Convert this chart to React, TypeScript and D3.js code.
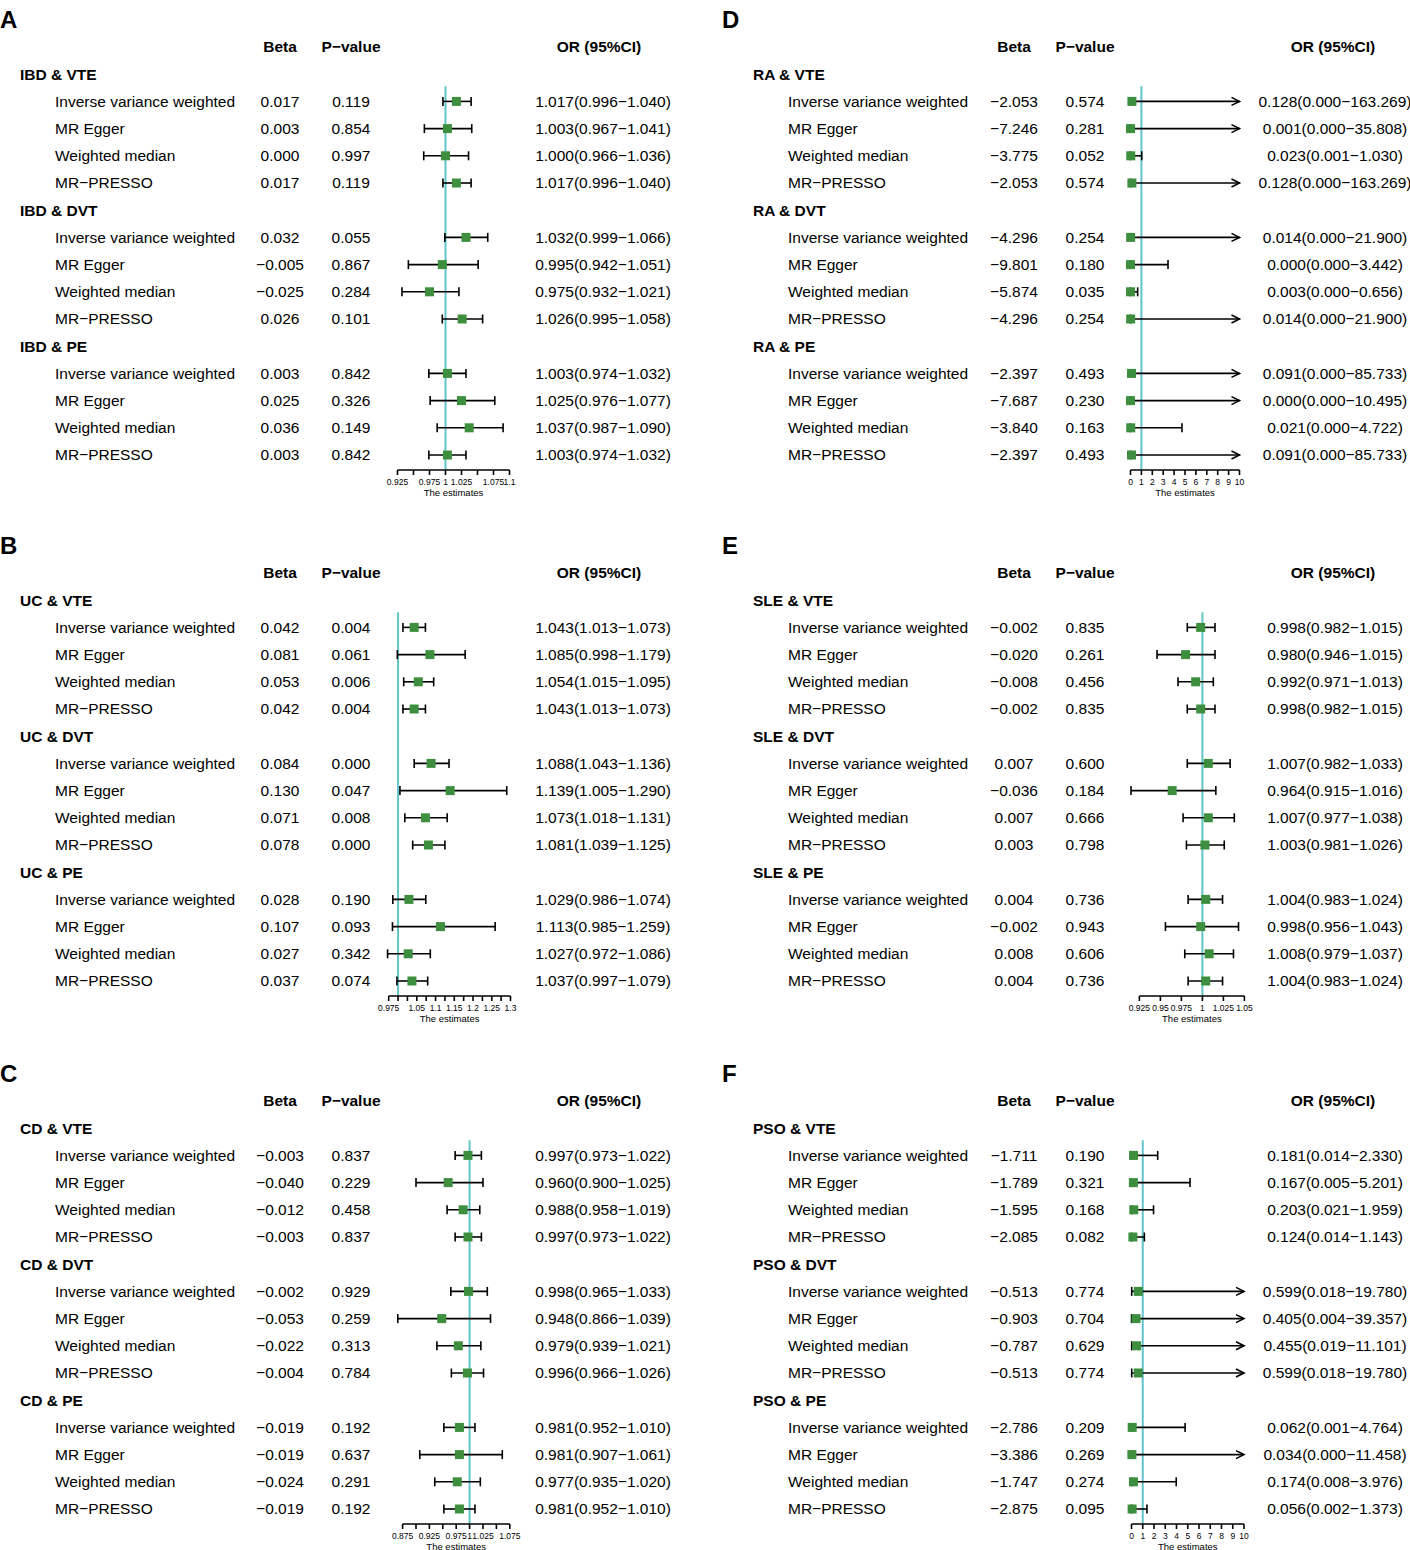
import React from "react";
import * as d3 from "d3";

const methods = ["Inverse variance weighted", "MR Egger", "Weighted median", "MR\u2212PRESSO"];

// Panel A
const groupsA = ["IBD & VTE", "IBD & DVT", "IBD & PE"];
const betaA = ["0.017", "0.003", "0.000", "0.017", "0.032", "\u22120.005", "\u22120.025", "0.026", "0.003", "0.025", "0.036", "0.003"];
const pA = ["0.119", "0.854", "0.997", "0.119", "0.055", "0.867", "0.284", "0.101", "0.842", "0.326", "0.149", "0.842"];
const orA = [1.017, 1.003, 1.0, 1.017, 1.032, 0.995, 0.975, 1.026, 1.003, 1.025, 1.037, 1.003];
const loA = [0.996, 0.967, 0.966, 0.996, 0.999, 0.942, 0.932, 0.995, 0.974, 0.976, 0.987, 0.974];
const hiA = [1.04, 1.041, 1.036, 1.04, 1.066, 1.051, 1.021, 1.058, 1.032, 1.077, 1.09, 1.032];
const ticksA = [0.925, 0.95, 0.975, 1, 1.025, 1.05, 1.075, 1.1];
const tickLabelsA = ["0.925", "", "0.975", "1", "1.025", "", "1.075", "1.1"];

// Panel B
const groupsB = ["UC & VTE", "UC & DVT", "UC & PE"];
const betaB = ["0.042", "0.081", "0.053", "0.042", "0.084", "0.130", "0.071", "0.078", "0.028", "0.107", "0.027", "0.037"];
const pB = ["0.004", "0.061", "0.006", "0.004", "0.000", "0.047", "0.008", "0.000", "0.190", "0.093", "0.342", "0.074"];
const orB = [1.043, 1.085, 1.054, 1.043, 1.088, 1.139, 1.073, 1.081, 1.029, 1.113, 1.027, 1.037];
const loB = [1.013, 0.998, 1.015, 1.013, 1.043, 1.005, 1.018, 1.039, 0.986, 0.985, 0.972, 0.997];
const hiB = [1.073, 1.179, 1.095, 1.073, 1.136, 1.29, 1.131, 1.125, 1.074, 1.259, 1.086, 1.079];
const ticksB = [0.975, 1, 1.025, 1.05, 1.075, 1.1, 1.125, 1.15, 1.175, 1.2, 1.225, 1.25, 1.275, 1.3];
const tickLabelsB = ["0.975", "", "", "1.05", "", "1.1", "", "1.15", "", "1.2", "", "1.25", "", "1.3"];

// Panel C
const groupsC = ["CD & VTE", "CD & DVT", "CD & PE"];
const betaC = ["\u22120.003", "\u22120.040", "\u22120.012", "\u22120.003", "\u22120.002", "\u22120.053", "\u22120.022", "\u22120.004", "\u22120.019", "\u22120.019", "\u22120.024", "\u22120.019"];
const pC = ["0.837", "0.229", "0.458", "0.837", "0.929", "0.259", "0.313", "0.784", "0.192", "0.637", "0.291", "0.192"];
const orC = [0.997, 0.96, 0.988, 0.997, 0.998, 0.948, 0.979, 0.996, 0.981, 0.981, 0.977, 0.981];
const loC = [0.973, 0.9, 0.958, 0.973, 0.965, 0.866, 0.939, 0.966, 0.952, 0.907, 0.935, 0.952];
const hiC = [1.022, 1.025, 1.019, 1.022, 1.033, 1.039, 1.021, 1.026, 1.01, 1.061, 1.02, 1.01];
const ticksC = [0.875, 0.9, 0.925, 0.95, 0.975, 1, 1.025, 1.05, 1.075];
const tickLabelsC = ["0.875", "", "0.925", "", "0.975", "1", "1.025", "", "1.075"];

// Panel D
const groupsD = ["RA & VTE", "RA & DVT", "RA & PE"];
const betaD = ["\u22122.053", "\u22127.246", "\u22123.775", "\u22122.053", "\u22124.296", "\u22129.801", "\u22125.874", "\u22124.296", "\u22122.397", "\u22127.687", "\u22123.840", "\u22122.397"];
const pD = ["0.574", "0.281", "0.052", "0.574", "0.254", "0.180", "0.035", "0.254", "0.493", "0.230", "0.163", "0.493"];
const orD = [0.128, 0.001, 0.023, 0.128, 0.014, 0.0, 0.003, 0.014, 0.091, 0.0, 0.021, 0.091];
const loD = [0.0, 0.0, 0.001, 0.0, 0.0, 0.0, 0.0, 0.0, 0.0, 0.0, 0.0, 0.0];
const hiD = [163.269, 35.808, 1.03, 163.269, 21.9, 3.442, 0.656, 21.9, 85.733, 10.495, 4.722, 85.733];
const ticksD = [0, 1, 2, 3, 4, 5, 6, 7, 8, 9, 10];
const tickLabelsD = ["0", "1", "2", "3", "4", "5", "6", "7", "8", "9", "10"];

// Panel E
const groupsE = ["SLE & VTE", "SLE & DVT", "SLE & PE"];
const betaE = ["\u22120.002", "\u22120.020", "\u22120.008", "\u22120.002", "0.007", "\u22120.036", "0.007", "0.003", "0.004", "\u22120.002", "0.008", "0.004"];
const pE = ["0.835", "0.261", "0.456", "0.835", "0.600", "0.184", "0.666", "0.798", "0.736", "0.943", "0.606", "0.736"];
const orE = [0.998, 0.98, 0.992, 0.998, 1.007, 0.964, 1.007, 1.003, 1.004, 0.998, 1.008, 1.004];
const loE = [0.982, 0.946, 0.971, 0.982, 0.982, 0.915, 0.977, 0.981, 0.983, 0.956, 0.979, 0.983];
const hiE = [1.015, 1.015, 1.013, 1.015, 1.033, 1.016, 1.038, 1.026, 1.024, 1.043, 1.037, 1.024];
const ticksE = [0.925, 0.95, 0.975, 1, 1.025, 1.05];
const tickLabelsE = ["0.925", "0.95", "0.975", "1", "1.025", "1.05"];

// Panel F
const groupsF = ["PSO & VTE", "PSO & DVT", "PSO & PE"];
const betaF = ["\u22121.711", "\u22121.789", "\u22121.595", "\u22122.085", "\u22120.513", "\u22120.903", "\u22120.787", "\u22120.513", "\u22122.786", "\u22123.386", "\u22121.747", "\u22122.875"];
const pF = ["0.190", "0.321", "0.168", "0.082", "0.774", "0.704", "0.629", "0.774", "0.209", "0.269", "0.274", "0.095"];
const orF = [0.181, 0.167, 0.203, 0.124, 0.599, 0.405, 0.455, 0.599, 0.062, 0.034, 0.174, 0.056];
const loF = [0.014, 0.005, 0.021, 0.014, 0.018, 0.004, 0.019, 0.018, 0.001, 0.0, 0.008, 0.002];
const hiF = [2.33, 5.201, 1.959, 1.143, 19.78, 39.357, 11.101, 19.78, 4.764, 11.458, 3.976, 1.373];
const ticksF = [0, 1, 2, 3, 4, 5, 6, 7, 8, 9, 10];
const tickLabelsF = ["0", "1", "2", "3", "4", "5", "6", "7", "8", "9", "10"];

const FONT = "'Liberation Sans', Arial, Helvetica, sans-serif";
const GREEN = "#3d8f3f";
const REF = "#62c3ca";

function fmt(v: number) {
  return v.toFixed(3);
}

type PanelProps = {
  letter: string;
  left: boolean;
  y0: number;
  groups: string[];
  beta: string[];
  p: string[];
  or: number[];
  lo: number[];
  hi: number[];
  ticks: number[];
  tickLabels: string[];
  px: [number, number];
};

function Panel(props: PanelProps) {
  const { letter, left, y0, groups, beta, p, or, lo, hi, ticks, tickLabels, px } = props;
  const dx = left ? 0 : 733;
  const groupX = 20 + dx;
  const itemX = 55 + dx;
  const betaX = left ? 280 : 1014;
  const pX = left ? 351 : 1085;
  const orX = left ? 603 : 1335;
  const orHX = left ? 599 : 1333;
  const dom = [ticks[0], ticks[ticks.length - 1]];
  const x = d3.scaleLinear().domain(dom).range(px);
  const rowH = 27.2;
  const headerY = y0 + 47;
  const rowY = (i: number) => headerY + i * rowH;
  const axisY = headerY + 15 * rowH + 15;
  const rows: React.ReactNode[] = [];
  groups.forEach((g, gi) => {
    const gRow = 1 + gi * 5;
    rows.push(
      <text key={"g" + gi} x={groupX} y={rowY(gRow)} dy="0.35em" fontWeight="bold">
        {g}
      </text>
    );
    methods.forEach((m, mi) => {
      const k = gi * 4 + mi;
      const y = rowY(gRow + 1 + mi);
      const xo = x(or[k]);
      const xl = x(lo[k]);
      const arrow = hi[k] > dom[1];
      const xh = arrow ? x(dom[1]) : x(hi[k]);
      rows.push(
        <g key={"r" + k}>
          <text x={itemX} y={y} dy="0.35em">{m}</text>
          <text x={betaX} y={y} dy="0.35em" textAnchor="middle">{beta[k]}</text>
          <text x={pX} y={y} dy="0.35em" textAnchor="middle">{p[k]}</text>
          <text x={orX} y={y} dy="0.35em" textAnchor="middle">
            {`${fmt(or[k])}(${fmt(lo[k])}\u2212${fmt(hi[k])})`}
          </text>
          <line x1={xl} x2={xh} y1={y} y2={y} stroke="#000" strokeWidth={1.6} />
          <line x1={xl} x2={xl} y1={y - 4.5} y2={y + 4.5} stroke="#000" strokeWidth={1.6} />
          {arrow ? (
            <polyline
              points={`${xh - 8},${y - 4} ${xh},${y} ${xh - 8},${y + 4}`}
              fill="none"
              stroke="#000"
              strokeWidth={1.6}
            />
          ) : (
            <line x1={xh} x2={xh} y1={y - 4.5} y2={y + 4.5} stroke="#000" strokeWidth={1.6} />
          )}
        </g>
      );
    });
  });
  const points: React.ReactNode[] = [];
  groups.forEach((g, gi) => {
    methods.forEach((m, mi) => {
      const k = gi * 4 + mi;
      const y = rowY(1 + gi * 5 + 1 + mi);
      points.push(
        <rect key={"p" + k} x={x(or[k]) - 4.5} y={y - 4.5} width={9} height={9} fill={GREEN} />
      );
    });
  });
  const refX = x(1);
  return (
    <g>
      <text x={left ? 0 : 722} y={y0 + 28} fontSize={24} fontWeight="bold">
        {letter}
      </text>
      <text x={betaX} y={headerY} dy="0.35em" textAnchor="middle" fontWeight="bold">Beta</text>
      <text x={pX} y={headerY} dy="0.35em" textAnchor="middle" fontWeight="bold">P{"\u2212"}value</text>
      <text x={orHX} y={headerY} dy="0.35em" textAnchor="middle" fontWeight="bold">OR (95%CI)</text>
      <line x1={refX} x2={refX} y1={rowY(1) + 12} y2={axisY} stroke={REF} strokeWidth={2} />
      {rows}
      {points}
      <g>
        <line x1={px[0]} x2={px[1]} y1={axisY} y2={axisY} stroke="#000" strokeWidth={1.6} />
        {ticks.map((t, i) => (
          <g key={"t" + i}>
            <line x1={x(t)} x2={x(t)} y1={axisY} y2={axisY + 5} stroke="#000" strokeWidth={1.6} />
            <text x={x(t)} y={axisY + 15} fontSize={8.5} textAnchor="middle">
              {tickLabels[i]}
            </text>
          </g>
        ))}
        <text x={(px[0] + px[1]) / 2} y={axisY + 26} fontSize={9.5} textAnchor="middle">
          The estimates
        </text>
      </g>
    </g>
  );
}

export default function App() {
  return (
    <svg
      width={1410}
      height={1550}
      style={{ position: "absolute", left: 0, top: 0, background: "#fff" }}
      fontFamily={FONT}
      fontSize={15.5}
    >
      <rect x={0} y={0} width={1410} height={1550} fill="#fff" />
      <Panel letter="A" left y0={0} groups={groupsA} beta={betaA} p={pA} or={orA} lo={loA} hi={hiA} ticks={ticksA} tickLabels={tickLabelsA} px={[397.5, 509.5]} />
      <Panel letter="B" left y0={526} groups={groupsB} beta={betaB} p={pB} or={orB} lo={loB} hi={hiB} ticks={ticksB} tickLabels={tickLabelsB} px={[388.7, 510.5]} />
      <Panel letter="C" left y0={1054} groups={groupsC} beta={betaC} p={pC} or={orC} lo={loC} hi={hiC} ticks={ticksC} tickLabels={tickLabelsC} px={[402.6, 509.8]} />
      <Panel letter="D" left={false} y0={0} groups={groupsD} beta={betaD} p={pD} or={orD} lo={loD} hi={hiD} ticks={ticksD} tickLabels={tickLabelsD} px={[1130.5, 1239.5]} />
      <Panel letter="E" left={false} y0={526} groups={groupsE} beta={betaE} p={pE} or={orE} lo={loE} hi={hiE} ticks={ticksE} tickLabels={tickLabelsE} px={[1139.4, 1244.4]} />
      <Panel letter="F" left={false} y0={1054} groups={groupsF} beta={betaF} p={pF} or={orF} lo={loF} hi={hiF} ticks={ticksF} tickLabels={tickLabelsF} px={[1131.5, 1244]} />
    </svg>
  );
}
